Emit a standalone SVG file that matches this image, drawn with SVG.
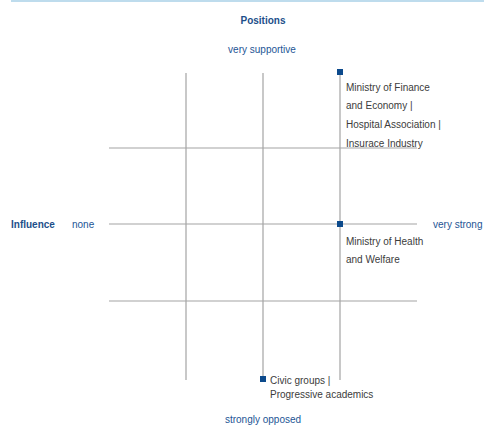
<svg xmlns="http://www.w3.org/2000/svg" width="484" height="427" viewBox="0 0 484 427">
<style>
.grid{stroke:#a3a3a3;stroke-width:1.2;fill:none}
.lbl{font-family:"Liberation Sans",Arial,sans-serif;font-size:10px;fill:#3c3c3c}
.ax{font-family:"Liberation Sans",Arial,sans-serif;font-size:10px;fill:#1d5595}
.axb{font-family:"Liberation Sans",Arial,sans-serif;font-size:10px;font-weight:bold;fill:#1d4f8a}
.mk{fill:#0c4a8c}
</style>
<rect width="484" height="427" fill="#ffffff"/>
<line x1="11" y1="1" x2="484" y2="1" stroke="#a9d1e7" stroke-width="1.5"/>
<g id="axes">
<text class="axb" x="263" y="24" text-anchor="middle">Positions</text>
<text class="ax" x="262" y="53" text-anchor="middle">very supportive</text>
<text class="ax" x="263" y="423" text-anchor="middle">strongly opposed</text>
<text class="axb" x="11" y="228">Influence</text>
<text class="ax" x="72" y="228">none</text>
<text class="ax" x="433" y="228">very strong</text>
</g>
<g id="connectors">
<line class="grid" x1="186" y1="73" x2="186" y2="380"/>
<line class="grid" x1="263" y1="73" x2="263" y2="376"/>
<line class="grid" x1="340" y1="75" x2="340" y2="380"/>
<line class="grid" x1="109" y1="148" x2="417" y2="148"/>
<line class="grid" x1="109" y1="224" x2="417" y2="224"/>
<line class="grid" x1="109" y1="301" x2="417" y2="301"/>
</g>
<g id="node-finance">
<rect class="mk" x="337" y="69" width="6" height="6"/>
<text class="lbl" x="346" y="91">Ministry of Finance</text>
<text class="lbl" x="346" y="109">and Economy |</text>
<text class="lbl" x="346" y="128">Hospital Association |</text>
<text class="lbl" x="346" y="147">Insurace Industry</text>
</g>
<g id="node-health">
<rect class="mk" x="337" y="221" width="6" height="6"/>
<text class="lbl" x="346" y="245">Ministry of Health</text>
<text class="lbl" x="346" y="263">and Welfare</text>
</g>
<g id="node-civic">
<rect class="mk" x="260" y="376" width="6" height="6"/>
<text class="lbl" x="270" y="384">Civic groups |</text>
<text class="lbl" x="270" y="398">Progressive academics</text>
</g>
</svg>
